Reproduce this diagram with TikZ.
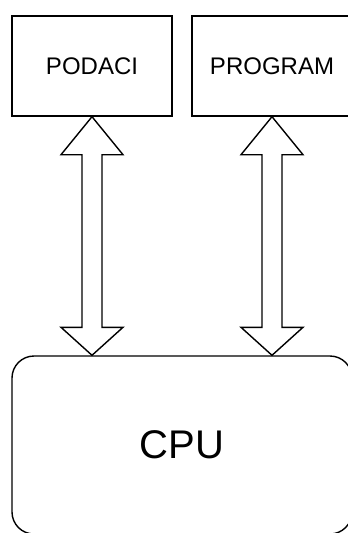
\documentclass[tikz,border=0pt]{standalone}
\usepackage{fontspec}
\setmainfont{Liberation Sans}
\usetikzlibrary{calc}
\begin{document}
\begin{tikzpicture}[x=1pt,y=-1pt,
  boxst/.style={draw=black,line width=1.4pt,fill=white,inner sep=0pt,
    minimum width=160pt,minimum height=100pt,font=\fontsize{24}{28}\selectfont},
  cpust/.style={draw=black,line width=1.4pt,fill=white,inner sep=0pt,rounded corners=22pt,
    minimum width=340pt,minimum height=178pt,font=\fontsize{40}{46}\selectfont},
  arrowst/.style={draw=black,line width=1.4pt,fill=white,line join=miter}]
\useasboundingbox (0,0) rectangle (348,533);
\node[boxst] (podaci) at (92,66) {PODACI};
\node[boxst] (program) at (272,66) {PROGRAM};
\node[cpust] (cpu) at (182,445) {CPU};
\coordinate (a1) at (podaci.south);
\coordinate (b1) at (podaci.south |- cpu.north);
\coordinate (a2) at (program.south);
\coordinate (b2) at (program.south |- cpu.north);
\foreach \t/\b in {a1/b1,a2/b2}{
  \draw[arrowst] (\t) -- ($(\t)+(31,38)$) -- ($(\t)+(10,38)$) -- ($(\b)+(10,-28)$) -- ($(\b)+(31,-28)$)
    -- (\b) -- ($(\b)+(-31,-28)$) -- ($(\b)+(-10,-28)$) -- ($(\t)+(-10,38)$) -- ($(\t)+(-31,38)$) -- cycle;
}
\end{tikzpicture}
\end{document}
